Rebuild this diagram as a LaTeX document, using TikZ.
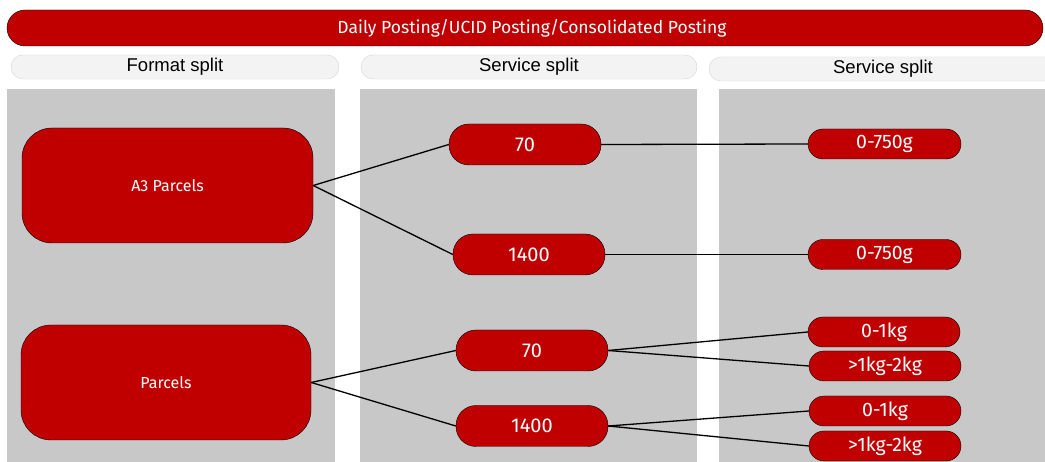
\documentclass[tikz,border=0pt]{standalone}
\usepackage{fontspec}
\setmainfont{Fira Sans}
\newfontfamily\hdrfont{Liberation Sans}
\definecolor{rmred}{HTML}{C00000}
\definecolor{panelgray}{HTML}{C8C8C8}
\definecolor{pillfill}{HTML}{F3F3F3}
\definecolor{pilledge}{HTML}{D6D6D6}
\begin{document}
\begin{tikzpicture}[x=1pt,y=-1pt,
  panel/.style={fill=panelgray,draw=none},
  hdr/.style={draw=pilledge,fill=pillfill,rounded corners=12pt,font=\hdrfont\fontsize{18.5}{20}\selectfont,inner sep=0pt},
  bigbox/.style={draw=black,fill=rmred,text=white,rounded corners=30pt,minimum width=290pt,minimum height=115pt,font=\fontsize{16}{18}\selectfont,inner sep=0pt},
  midbox/.style={draw=black,fill=rmred,text=white,rounded corners=20pt,minimum width=152pt,minimum height=41pt,font=\fontsize{20}{22}\selectfont,inner sep=0pt},
  smallbox/.style={draw=black,fill=rmred,text=white,rounded corners=15pt,minimum width=152pt,minimum height=30pt,font=\fontsize{19.5}{21}\selectfont,inner sep=0pt},
  link/.style={draw=black,line width=1.3pt}]
\useasboundingbox (0,0) rectangle (1045,462);
\clip (0,0) rectangle (1045,462);
\fill[white] (0,0) rectangle (1045,462);
% title
\node[draw=black,fill=rmred,text=white,rounded corners=18pt,minimum width=1036pt,minimum height=36pt,inner sep=0pt,font=\fontsize{17.5}{19}\selectfont] (title) at (525,28) {\hspace{14pt}Daily Posting/UCID Posting/Consolidated Posting};
% headers
\node[hdr,minimum width=328pt,minimum height=24pt] (h1) at (175,67) {Format split};
\node[hdr,minimum width=336pt,minimum height=24pt] (h2) at (529,67) {Service split};
\node[hdr,minimum width=348pt,minimum height=24pt] (h3) at (883,69) {Service split};
% panels
\node[panel,minimum width=328pt,minimum height=380pt,inner sep=0pt,anchor=north west] (p1) at (7,89) {};
\node[panel,minimum width=337pt,minimum height=380pt,inner sep=0pt,anchor=north west] (p2) at (360,89) {};
\node[panel,minimum width=330pt,minimum height=380pt,inner sep=0pt,anchor=north west] (p3) at (719,89) {};
% format nodes
\node[bigbox,minimum width=291pt] (a3) at (167.5,185.5) {A3 Parcels};
\node[bigbox] (parcels) at (166,382.5) {Parcels};
% service nodes
\node[midbox] (s70a) at (525,144.5) {70};
\node[midbox] (s1400a) at (529,254.5) {1400};
\node[midbox] (s70b) at (532,350.5) {70};
\node[midbox] (s1400b) at (532,426) {1400};
% weight nodes
\node[smallbox,minimum width=153pt] (w1) at (884.5,144) {0-750g};
\node[smallbox,minimum width=153pt] (w2) at (884.5,254.5) {0-750g};
\node[smallbox] (w3) at (884,332) {0-1kg};
\node[smallbox] (w4) at (885,366) {>1kg-2kg};
\node[smallbox] (w5) at (885,411) {0-1kg};
\node[smallbox] (w6) at (885,446) {>1kg-2kg};
% connectors
\draw[link] (a3.east) -- (s70a.west);
\draw[link] (a3.east) -- (s1400a.west);
\draw[link] (parcels.east) -- (s70b.west);
\draw[link] (parcels.east) -- (s1400b.west);
\draw[link] (s70a.east) -- (w1.west);
\draw[link] (s1400a.east) -- (w2.west);
\draw[link] (s70b.east) -- (w3.west);
\draw[link] (s70b.east) -- (w4.west);
\draw[link] (s1400b.east) -- (w5.west);
\draw[link] (s1400b.east) -- (w6.west);
\end{tikzpicture}
\end{document}
